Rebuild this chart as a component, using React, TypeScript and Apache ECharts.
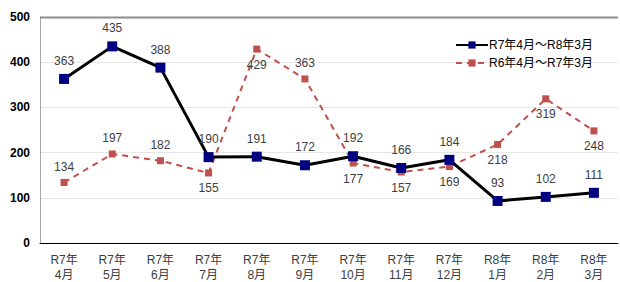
import React, { useEffect, useRef } from "react";
import * as echarts from "echarts";

const categories = ["R7年\n4月", "R7年\n5月", "R7年\n6月", "R7年\n7月", "R7年\n8月", "R7年\n9月", "R7年\n10月", "R7年\n11月", "R7年\n12月", "R8年\n1月", "R8年\n2月", "R8年\n3月"];
const seriesCurrent = [363, 435, 388, 190, 191, 172, 192, 166, 184, 93, 102, 111];
const seriesPrev = [134, 197, 182, 155, 429, 363, 177, 157, 169, 218, 319, 248];
const prevLabelPos = ["top", "top", "top", "bottom", "bottom", "top", "bottom", "bottom", "bottom", "bottom", "bottom", "bottom"];
const nameCurrent = "R7年4月～R8年3月";
const namePrev = "R6年4月～R7年3月";

const FONT = "'Liberation Sans', Arial, 'Noto Sans CJK JP', sans-serif";

export default function App() {
  const ref = useRef<HTMLDivElement>(null);
  useEffect(() => {
    const chart = echarts.init(ref.current!, null, { renderer: "svg" });
    chart.setOption({
      animation: false,
      textStyle: { fontFamily: FONT },
      grid: { left: 40, right: 2, top: 17, bottom: 39, containLabel: false, outerBoundsMode: "none" },
      legend: {
        orient: "vertical",
        left: 450,
        top: 34,
        itemWidth: 32,
        itemHeight: 9,
        itemGap: 6,
        textStyle: { fontSize: 12, color: "#000", fontFamily: FONT, padding: [0, 0, 0, -4] },
        data: [nameCurrent, namePrev],
      },
      xAxis: {
        type: "category",
        data: categories,
        boundaryGap: true,
        axisLine: { lineStyle: { color: "#000", width: 1 } },
        axisTick: { show: false },
        axisLabel: { color: "#404040", fontSize: 12, lineHeight: 15, margin: 9, interval: 0, fontFamily: FONT },
        splitLine: { show: false },
      },
      yAxis: {
        type: "value",
        min: 0,
        max: 500,
        interval: 100,
        axisLine: { show: true, lineStyle: { color: "#a6a6a6", width: 1 } },
        axisTick: { show: false },
        axisLabel: { color: "#000", fontSize: 12, fontWeight: "bold", margin: 10, fontFamily: FONT },
        splitLine: { show: true, lineStyle: { color: "#e6e6e6", width: 1 } },
      },
      series: [
        {
          name: namePrev,
          type: "line",
          data: seriesPrev.map((v, i) => ({ value: v, label: { position: prevLabelPos[i] } })),
          symbol: "rect",
          symbolSize: 7,
          lineStyle: { color: "#c0504d", width: 2, type: [6, 5] },
          itemStyle: { color: "#c0504d" },
          label: { show: true, color: "#404040", fontSize: 12, distance: 6, fontFamily: FONT },
          z: 2,
        },
        {
          name: nameCurrent,
          type: "line",
          data: seriesCurrent,
          symbol: "rect",
          symbolSize: 10,
          lineStyle: { color: "#000", width: 3 },
          itemStyle: { color: "#000080" },
          label: { show: true, position: "top", color: "#404040", fontSize: 12, distance: 7, fontFamily: FONT },
          z: 3,
        },
      ],
      graphic: [
        { type: "line", shape: { x1: 40, y1: 17.5, x2: 618, y2: 17.5 }, style: { stroke: "#8c8c8c", lineWidth: 2 }, z: 1 },
      ],
    });
    return () => chart.dispose();
  }, []);
  return <div ref={ref} style={{ width: 620, height: 282, position: "absolute", left: 0, top: 0 }} />;
}
